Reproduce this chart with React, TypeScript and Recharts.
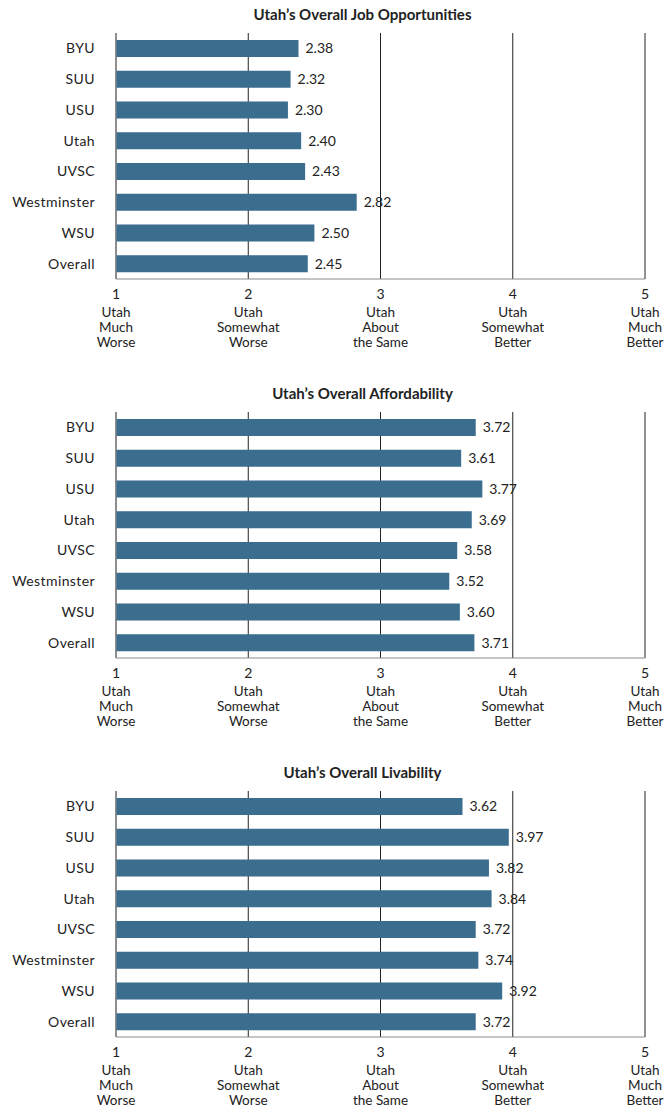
import React from "react";
import { BarChart, Bar, XAxis, YAxis, CartesianGrid, LabelList } from "recharts";

const schools = ["BYU", "SUU", "USU", "Utah", "UVSC", "Westminster", "WSU", "Overall"];
const jobScores = [2.38, 2.32, 2.3, 2.4, 2.43, 2.82, 2.5, 2.45];
const affordScores = [3.72, 3.61, 3.77, 3.69, 3.58, 3.52, 3.6, 3.71];
const liveScores = [3.62, 3.97, 3.82, 3.84, 3.72, 3.74, 3.92, 3.72];

const scaleTicks = [1, 2, 3, 4, 5];
const scaleLabels = [
  ["Utah", "Much", "Worse"],
  ["Utah", "Somewhat", "Worse"],
  ["Utah", "About", "the Same"],
  ["Utah", "Somewhat", "Better"],
  ["Utah", "Much", "Better"],
];

const titles = [
  "Utah\u2019s Overall Job Opportunities",
  "Utah\u2019s Overall Affordability",
  "Utah\u2019s Overall Livability",
];
const seriesList = [jobScores, affordScores, liveScores];

const FONT = "Lato, 'Open Sans', sans-serif";
const BAR = "#3a6d8e";
const INK = "#222";

const ScaleTick = (props: any) => {
  const { x, y, payload } = props;
  const lines = scaleLabels[scaleTicks.indexOf(payload.value)] || [];
  return (
    <g transform={`translate(${x},${y})`}>
      <text x={0} y={12} textAnchor="middle" fontSize={14} fill={INK} fontFamily={FONT}>
        {payload.value}
      </text>
      {lines.map((l, i) => (
        <text key={i} x={0} y={30 + i * 15} textAnchor="middle" fontSize={13.5} fill={INK} fontFamily={FONT}>
          {l}
        </text>
      ))}
    </g>
  );
};

const ScoreChart = ({ title, values }: { title: string; values: number[] }) => {
  const data = schools.map((s, i) => ({ school: s, score: values[i] }));
  return (
    <div style={{ position: "relative", width: 667, height: 379 }}>
      <div
        style={{
          position: "absolute",
          top: 5,
          left: 0,
          width: 725,
          textAlign: "center",
          fontFamily: FONT,
          fontWeight: 700,
          fontSize: 15,
          color: INK,
        }}
      >
        {title}
      </div>
      <BarChart
        width={667}
        height={379}
        data={data}
        layout="vertical"
        margin={{ top: 33, right: 22, bottom: 0, left: 0 }}
      >
        <CartesianGrid horizontal={false} stroke={INK} strokeOpacity={1} />
        <XAxis
          type="number"
          domain={[1, 5]}
          ticks={scaleTicks}
          allowDataOverflow
          height={100}
          tickLine={false}
          axisLine={{ stroke: "#8a8a8a" }}
          tick={<ScaleTick />}
          interval={0}
        />
        <YAxis
          type="category"
          dataKey="school"
          width={116}
          tickLine={false}
          axisLine={{ stroke: "#8a8a8a" }}
          tickMargin={15}
          tick={{ fontSize: 14, fill: INK, fontFamily: FONT, letterSpacing: 0.4 }}
        />
        <Bar dataKey="score" fill={BAR} barSize={17} isAnimationActive={false}>
          <LabelList
            dataKey="score"
            position="right"
            offset={7}
            formatter={(v: any) => Number(v).toFixed(2)}
            style={{ fontSize: 14, fill: INK, fontFamily: FONT }}
          />
        </Bar>
      </BarChart>
    </div>
  );
};

export default function App() {
  return (
    <div style={{ position: "absolute", top: 0, left: 0, width: 667, background: "#fff" }}>
      {titles.map((t, i) => (
        <ScoreChart key={t} title={t} values={seriesList[i]} />
      ))}
    </div>
  );
}
